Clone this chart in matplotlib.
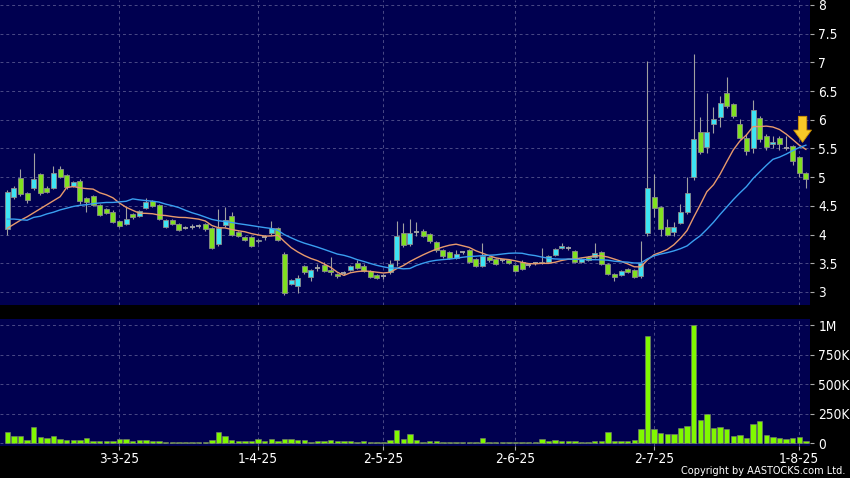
import numpy as np
import pandas as pd
import matplotlib
matplotlib.use('Agg')
import matplotlib.pyplot as plt

plt.rcParams['font.family'] = ['DejaVu Sans']
plt.rcParams['font.stretch'] = 'condensed'

# daily OHLC, 6 Feb 2025 .. 4 Aug 2025
opens = [4.09, 4.66, 4.99, 4.72, 4.81, 5.05, 4.81, 4.82, 5.15, 5.04,
         4.85, 4.94, 4.64, 4.67, 4.51, 4.44, 4.40, 4.24, 4.18, 4.36,
         4.33, 4.46, 4.58, 4.52, 4.14, 4.26, 4.19, 4.12, 4.14, 4.15,
         4.18, 4.11, 3.83, 4.17, 4.32, 4.05, 3.95, 3.95, 3.88, 3.95,
         4.02, 4.11, 3.67, 3.14, 3.10, 3.45, 3.26, 3.41, 3.47, 3.38,
         3.31, 3.33, 3.39, 3.50, 3.46, 3.37, 3.29, 3.28, 3.34, 3.56,
         4.03, 3.84, 4.05, 4.07, 4.01, 3.87, 3.73, 3.69, 3.59, 3.69,
         3.73, 3.57, 3.45, 3.61, 3.58, 3.55, 3.56, 3.47, 3.53, 3.47,
         3.50, 3.50, 3.53, 3.64, 3.77, 3.77, 3.72, 3.52, 3.61, 3.61,
         3.70, 3.48, 3.31, 3.30, 3.40, 3.38, 3.28, 4.02, 4.65, 4.48,
         4.13, 4.05, 4.21, 4.40, 5.01, 5.78, 5.53, 5.93, 6.04, 6.46,
         6.27, 5.93, 5.68, 5.50, 6.03, 5.71, 5.58, 5.69, 5.51, 5.54,
         5.35, 5.07]
highs = [4.77, 4.85, 5.15, 4.75, 5.42, 5.08, 4.85, 5.19, 5.20, 5.06,
         4.93, 4.96, 4.66, 4.69, 4.53, 4.47, 4.42, 4.26, 4.49, 4.38,
         4.43, 4.63, 4.60, 4.54, 4.28, 4.28, 4.21, 4.15, 4.18, 4.19,
         4.20, 4.13, 4.45, 4.48, 4.40, 4.07, 3.97, 3.97, 3.93, 4.00,
         4.23, 4.13, 3.69, 3.23, 3.30, 3.47, 3.40, 3.48, 3.52, 3.61,
         3.33, 3.37, 3.47, 3.56, 3.48, 3.39, 3.31, 3.31, 3.55, 4.23,
         4.20, 4.28, 4.22, 4.09, 4.03, 3.89, 3.75, 3.71, 3.74, 3.72,
         3.75, 3.59, 3.86, 3.63, 3.60, 3.58, 3.58, 3.49, 3.55, 3.50,
         3.53, 3.76, 3.64, 3.77, 3.86, 3.80, 3.74, 3.60, 3.63, 3.85,
         3.72, 3.50, 3.33, 3.39, 3.42, 3.40, 3.89, 7.03, 5.05, 4.50,
         4.28, 4.22, 4.54, 5.01, 7.15, 6.05, 6.46, 6.23, 6.41, 6.74,
         6.30, 6.01, 5.75, 6.34, 6.06, 5.75, 5.72, 5.72, 5.72, 5.56,
         5.37, 5.09]
lows = [3.99, 4.62, 4.68, 4.55, 4.78, 4.69, 4.72, 4.80, 4.98, 4.80,
        4.83, 4.53, 4.40, 4.50, 4.32, 4.35, 4.20, 4.13, 4.16, 4.28,
        4.31, 4.44, 4.48, 4.26, 4.12, 4.17, 4.06, 4.10, 4.10, 4.12,
        4.07, 3.75, 3.80, 4.14, 3.97, 3.95, 3.88, 3.78, 3.85, 3.90,
        4.00, 3.88, 2.95, 3.12, 2.99, 3.32, 3.20, 3.36, 3.34, 3.30,
        3.25, 3.29, 3.37, 3.40, 3.34, 3.24, 3.22, 3.22, 3.32, 3.45,
        3.78, 3.80, 3.98, 3.96, 3.86, 3.70, 3.60, 3.57, 3.57, 3.66,
        3.51, 3.43, 3.43, 3.53, 3.47, 3.52, 3.48, 3.35, 3.38, 3.44,
        3.47, 3.48, 3.51, 3.62, 3.75, 3.74, 3.50, 3.50, 3.54, 3.59,
        3.47, 3.30, 3.20, 3.28, 3.33, 3.24, 3.25, 3.98, 4.31, 3.98,
        3.97, 3.97, 4.19, 4.35, 4.95, 5.40, 5.42, 5.77, 5.87, 6.20,
        6.03, 5.66, 5.39, 5.42, 5.62, 5.47, 5.50, 5.47, 5.47, 5.22,
        5.01, 4.82]
closes = [4.75, 4.81, 4.71, 4.60, 4.97, 4.73, 4.74, 5.07, 5.00, 4.83,
          4.91, 4.59, 4.57, 4.51, 4.34, 4.37, 4.22, 4.15, 4.27, 4.30,
          4.41, 4.56, 4.50, 4.28, 4.26, 4.19, 4.08, 4.12, 4.14, 4.15,
          4.09, 3.77, 4.11, 4.25, 3.99, 3.97, 3.90, 3.80, 3.91, 3.95,
          4.11, 3.90, 2.99, 3.21, 3.24, 3.34, 3.39, 3.41, 3.36, 3.34,
          3.28, 3.33, 3.45, 3.41, 3.36, 3.26, 3.24, 3.28, 3.48, 3.97,
          3.82, 4.03, 4.05, 3.98, 3.88, 3.73, 3.62, 3.59, 3.66, 3.69,
          3.53, 3.45, 3.63, 3.55, 3.49, 3.55, 3.50, 3.37, 3.40, 3.47,
          3.50, 3.53, 3.62, 3.75, 3.80, 3.77, 3.52, 3.58, 3.56, 3.68,
          3.49, 3.32, 3.26, 3.37, 3.35, 3.26, 3.50, 4.81, 4.46, 4.09,
          3.99, 4.14, 4.39, 4.72, 5.66, 5.44, 5.78, 6.01, 6.30, 6.24,
          6.07, 5.69, 5.46, 6.17, 5.66, 5.52, 5.62, 5.58, 5.51, 5.29,
          5.08, 4.96]
# volume in thousands of shares
volumes_k = [98, 62, 62, 28, 140, 53, 42, 62, 34, 25,
             25, 25, 39, 20, 17, 17, 20, 31, 31, 14,
             22, 25, 17, 14, 11, 11, 8, 8, 8, 8,
             11, 22, 98, 59, 22, 17, 14, 14, 31, 17,
             31, 20, 31, 31, 22, 22, 11, 14, 14, 25,
             14, 17, 17, 11, 17, 6, 6, 5, 22, 109,
             34, 73, 28, 8, 14, 14, 8, 6, 5, 8,
             8, 8, 39, 8, 5, 5, 5, 5, 6, 6,
             8, 31, 20, 22, 17, 14, 17, 11, 11, 17,
             14, 90, 14, 14, 14, 22, 123, 910, 123, 84,
             73, 73, 126, 146, 1000, 196, 244, 126, 134, 115,
             62, 67, 42, 165, 188, 70, 53, 39, 34, 39,
             53, 20]
# moving averages before the window fills
ma10_head = [4.11, 4.18, 4.25, 4.31, 4.38, 4.45, 4.52, 4.59, 4.66]
ma20_head = [4.27, 4.27, 4.26, 4.25, 4.30, 4.32, 4.36, 4.39, 4.43, 4.46,
             4.49, 4.51, 4.52, 4.54, 4.55, 4.56, 4.56, 4.57, 4.58]

date_ticks = [17, 38, 57, 77, 98, 120]
date_labels = ['3-3-25', '1-4-25', '2-5-25', '2-6-25', '2-7-25', '1-8-25']
price_ticks = [3, 3.5, 4, 4.5, 5, 5.5, 6, 6.5, 7, 7.5, 8]
vol_ticks = [0, 250, 500, 750, 1000]
vol_labels = ['0', '250K', '500K', '750K', '1M']

o = np.array(opens); h = np.array(highs); l = np.array(lows); c = np.array(closes)
n = len(c)
x = np.arange(n)
ma10 = pd.Series(c).rolling(10).mean().values
ma10[:9] = ma10_head
ma20 = pd.Series(c).rolling(20).mean().values
ma20[:19] = ma20_head

navy = '#000050'
gridc = '#4a4a86'
up_col = '#3de4f4'
dn_col = '#80e020'
edge = '#8c8c8c'
fs = 9.8

fig = plt.figure(figsize=(8.5, 4.78), dpi=100, facecolor='black')
ax = fig.add_axes([0, 0.3619, 0.9529, 0.6381])
axv = fig.add_axes([0, 0.0669, 0.9529, 0.2657])

for a in (ax, axv):
    a.set_facecolor(navy)
    for s in a.spines.values():
        s.set_visible(False)
    a.set_xlim(-1.106, 121.62)
    a.set_xticks(date_ticks)
    a.yaxis.tick_right()
    a.grid(True, color=gridc, ls=(0, (3, 3)), lw=0.7)
    a.set_axisbelow(True)
    a.tick_params(axis='y', length=3, width=0.8, color='#aaaaaa',
                  labelcolor='white', labelsize=fs, pad=3)

# candles
ax.vlines(x, l, h, color='#a0a0a0', lw=0.8, zorder=2)
w = 0.76
up = c > o
dn = c < o
fl = c == o
ax.bar(x[up], (c - o)[up], bottom=o[up], width=w, color=up_col,
       edgecolor=edge, lw=0.6, zorder=3)
ax.bar(x[dn], (o - c)[dn], bottom=c[dn], width=w, color=dn_col,
       edgecolor=edge, lw=0.6, zorder=3)
ax.hlines(c[fl], x[fl] - w / 2, x[fl] + w / 2, color='#a8a8a8', lw=1.3, zorder=3)

ax.plot(x, ma10, color='#e89a6c', lw=1.0, zorder=4)
ax.plot(x, ma20, color='#3a9ff0', lw=1.0, zorder=4)

ax.annotate('', xy=(n - 1.5, max(ma10[-1], ma20[-1]) + 0.05), xytext=(0, 26),
            textcoords='offset pixels',
            arrowprops=dict(arrowstyle='simple,head_length=0.55,head_width=0.8,tail_width=0.38',
                            mutation_scale=16, fc='#f8c828', ec='#d09000', lw=0.6,
                            shrinkA=0, shrinkB=0), zorder=6)

ax.set_ylim(2.773, 8.087)
ax.set_yticks(price_ticks)
ax.set_yticklabels([f'{t:g}' for t in price_ticks])
ax.tick_params(axis='x', length=0, labelbottom=False)

# volume
axv.bar(x, np.array(volumes_k), width=0.8, color='#80f800', edgecolor='#7a7a7a',
        lw=0.4, zorder=3)
axv.set_ylim(-25, 1051)
axv.set_yticks(vol_ticks)
axv.set_yticklabels(vol_labels)
axv.set_xticklabels(date_labels)
axv.tick_params(axis='x', length=3, width=0.8, color='#aaaaaa', labelcolor='white',
                labelsize=fs, pad=1.5)

fig.text(0.995, 0.015, 'Copyright by AASTOCKS.com Ltd.', color='white', fontsize=7.8,
         ha='right', va='center')

fig.savefig('out.png', dpi=100, facecolor='black')
